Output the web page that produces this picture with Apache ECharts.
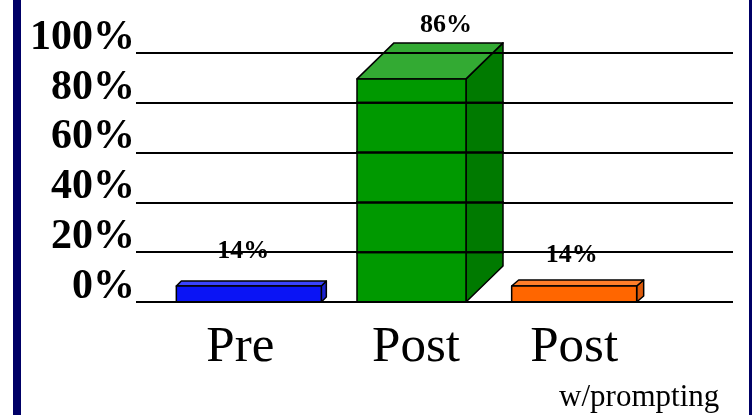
<!DOCTYPE html>
<html>
<head>
<meta charset="utf-8">
<script src="https://cdn.jsdelivr.net/npm/echarts@6/dist/echarts.min.js"></script>
<style>
html,body{margin:0;padding:0;background:#fff;}
#chart{width:752px;height:415px;}
</style>
</head>
<body>
<div id="chart"></div>
<script>
// ---- data ----
const categories = ['Pre', 'Post', 'Post w/prompting'];
const values = [14, 86, 14];
const valueLabels = ['14%', '86%', '14%'];
const tickValues = [0, 20, 40, 60, 80, 100];
const axisMin = 0, axisMax = 100, axisStep = 20;

// ---- styling (per-bar 3D look) ----
const BAR_AXIS_MIN = 8.43, BAR_AXIS_MAX = 95;
const BAR_W = [145, 109, 125];
const DEPTH = [[5, -5], [37, -36], [7, -6]];
const LABEL_OFF = [[-5.5, -35], [34.5, -54], [-2.5, -31]];
const COLORS = [
  {front: '#0a14f5', top: '#3a44ff', side: '#1a22d0'},
  {front: '#009900', top: '#33aa33', side: '#007a00'},
  {front: '#ff6600', top: '#ff7f2a', side: '#dd5a0a'}
];
const FONT = '"Liberation Serif", "Times New Roman", serif';

const chart = echarts.init(document.getElementById('chart'), null, {renderer: 'canvas'});

function barGeom(api) {
  const i = api.value(0);
  const v = api.value(1);
  const top = api.coord([i, v]);
  const base = api.coord([i, BAR_AXIS_MIN]);
  const w = BAR_W[i];
  return {
    i: i, cx: top[0], x0: top[0] - w / 2, x1: top[0] + w / 2,
    yt: top[1], yb: base[1], dx: DEPTH[i][0], dy: DEPTH[i][1]
  };
}

// black gridline pieces that cross in front of a bar
function gridOverlay(api, g, z2) {
  const out = [];
  tickValues.forEach(function (t) {
    const hv = BAR_AXIS_MIN + (t - axisMin) / (axisMax - axisMin) * (BAR_AXIS_MAX - BAR_AXIS_MIN);
    const y = api.coord([g.i, hv])[1];
    if (y < g.yt + g.dy - 0.5 || y > g.yb + 0.5) return;
    const left = y >= g.yt ? g.x0 : g.x0 + g.dx * (g.yt - y) / (-g.dy);
    const right = y <= g.yb + g.dy ? g.x1 + g.dx : g.x1 + g.dx * (g.yb - y) / (-g.dy);
    out.push({type: 'rect', z2: z2,
      shape: {x: left - 1, y: y - 1, width: right - left + 2, height: 2},
      style: {fill: '#000'}});
  });
  return out;
}

function renderItem(params, api) {
  const g = barGeom(api);
  const c = COLORS[g.i];
  const x0 = g.x0, x1 = g.x1, yt = g.yt, yb = g.yb, dx = g.dx, dy = g.dy;
  const edge = {stroke: '#000', lineWidth: 1.5, lineJoin: 'round'};
  const children = [
    {type: 'polygon', z2: 1, shape: {points: [[x1, yt], [x1 + dx, yt + dy], [x1 + dx, yb + dy], [x1, yb]]},
     style: Object.assign({fill: c.side}, edge)},
    {type: 'polygon', z2: 1, shape: {points: [[x0, yt], [x1, yt], [x1 + dx, yt + dy], [x0 + dx, yt + dy]]},
     style: Object.assign({fill: c.top}, edge)},
    {type: 'rect', z2: 1, shape: {x: x0, y: yt, width: x1 - x0, height: yb - yt},
     style: Object.assign({fill: c.front}, edge)}
  ];
  return {type: 'group', children: children.concat(gridOverlay(api, g, 50))};
}

function renderLabel(params, api) {
  const g = barGeom(api);
  const children = gridOverlay(api, g, 40);
  children.push({
    type: 'text', z2: 60,
    style: {x: g.cx + LABEL_OFF[g.i][0], y: g.yt + LABEL_OFF[g.i][1], text: valueLabels[g.i],
            fill: '#000', font: 'bold 26px ' + FONT, textAlign: 'center', textVerticalAlign: 'middle'}
  });
  return {type: 'group', children: children};
}

const option = {
  backgroundColor: '#fff',
  animation: false,
  grid: [
    {left: 136, right: 19, top: 53, bottom: 113},
    {left: 167.5, width: 488, top: 53, bottom: 113}
  ],
  xAxis: [
    {gridIndex: 0, type: 'value', min: 0, max: 1, show: false},
    {gridIndex: 1, type: 'category', data: categories,
     axisLine: {show: false}, axisTick: {show: false}, splitLine: {show: false},
     axisLabel: {
       margin: 20,
       interval: 0,
       formatter: function (val, idx) {
         if (idx === 0) return '{pre|Pre}';
         if (idx === 1) return '{post|Post}';
         return '{post2|Post}\n{w|w/prompting}';
       },
       rich: {
         pre: {fontFamily: FONT, fontSize: 51, lineHeight: 51, color: '#000', padding: [0, 17, 0, 0]},
         post: {fontFamily: FONT, fontSize: 51, lineHeight: 51, color: '#000', padding: [0, 0, 0, 9]},
         post2: {fontFamily: FONT, fontSize: 51, lineHeight: 51, color: '#000'},
         w: {fontFamily: FONT, fontSize: 31, lineHeight: 50, color: '#000', padding: [0, 0, 0, 130]}
       }
     }}
  ],
  yAxis: [
    {gridIndex: 0, type: 'value', min: axisMin, max: axisMax, interval: axisStep,
     axisLine: {show: false}, axisTick: {show: false},
     splitLine: {show: true, lineStyle: {color: '#000', width: 2}},
     axisLabel: {
       formatter: '{value}%', margin: 1, verticalAlign: 'bottom', lineHeight: 30,
       fontFamily: FONT, fontSize: 42, fontWeight: 'bold', color: '#000'
     }},
    {gridIndex: 1, type: 'value', min: BAR_AXIS_MIN, max: BAR_AXIS_MAX, show: false, splitLine: {show: false}}
  ],
  graphic: [
    {type: 'rect', left: 13, top: 0, shape: {width: 8, height: 415}, style: {fill: '#000066'}},
    {type: 'rect', left: 749, top: 0, shape: {width: 3, height: 415}, style: {fill: '#000066'}}
  ],
  series: [
    {type: 'custom', xAxisIndex: 1, yAxisIndex: 1, z: 2,
     renderItem: renderItem, clip: false,
     data: values.map(function (v, i) { return [i, v]; })},
    {type: 'custom', xAxisIndex: 1, yAxisIndex: 1, z: 11,
     renderItem: renderLabel, clip: false,
     data: values.map(function (v, i) { return [i, v]; })}
  ]
};
chart.setOption(option);
</script>
</body>
</html>
